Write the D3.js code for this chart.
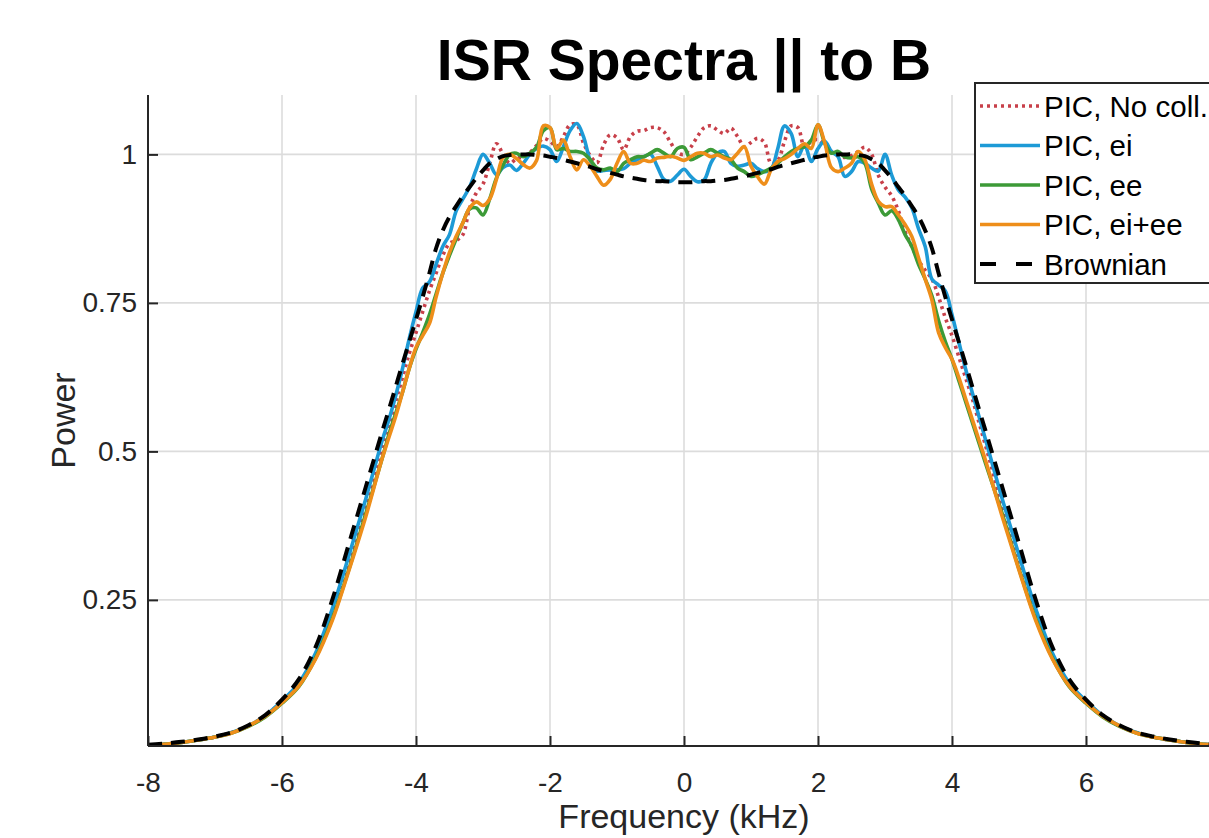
<!DOCTYPE html>
<html>
<head>
<meta charset="utf-8">
<script src="https://cdn.jsdelivr.net/npm/d3@7"></script>
<style>
  html, body { margin: 0; padding: 0; background: #ffffff; overflow: hidden; }
  svg { display: block; font-family: "Liberation Sans", Arial, Helvetica, sans-serif; }
</style>
</head>
<body>
<svg id="chart" width="1209" height="838"></svg>
<script>
// ---------------- data ----------------
const freq = [-8,-7.75,-7.5,-7.25,-7,-6.75,-6.5,-6.25,-6,-5.75,-5.5,-5.25,-5,-4.75,
  -4.5,-4.4,-4.3,-4.2,-4.1,-4,-3.9,-3.8,-3.7,-3.6,-3.5,-3.4,-3.3,-3.2,-3.1,-3,
  -2.9,-2.8,-2.7,-2.6,-2.5,-2.4,-2.3,-2.2,-2.1,-2,-1.9,-1.8,-1.7,-1.6,-1.5,-1.4,
  -1.3,-1.2,-1.1,-1,-0.9,-0.8,-0.7,-0.6,-0.5,-0.4,-0.3,-0.2,-0.1,0,
  0.1,0.2,0.3,0.4,0.5,0.6,0.7,0.8,0.9,1,1.1,1.2,1.3,1.4,1.5,1.6,1.7,1.8,1.9,2,
  2.1,2.2,2.3,2.4,2.5,2.6,2.7,2.8,2.9,3,3.1,3.2,3.3,3.4,3.5,3.6,3.7,3.8,3.9,4,
  4.1,4.2,4.3,4.4,4.5,
  4.75,5,5.25,5.5,5.75,6,6.25,6.5,6.75,7,7.25,7.5,7.75,8];

const picNoColl = [.005,.007,.010,.014,.019,.027,.038,.055,.079,.108,.158,.23,.318,.41,
  .51,.545,.585,.625,.665,.70,.735,.77,.80,.83,.85,.855,.865,.91,.935,.95,
  .985,1.018,1.0,.985,.993,.996,1.003,1.015,1.027,1.022,1.013,1.03,1.05,1.05,1.019,.998,
  .986,1.016,1.033,1.028,1.008,1.03,1.039,1.04,1.045,1.045,1.038,1.02,1.003,1.0,
  1.012,1.03,1.045,1.048,1.041,1.035,1.044,1.03,1.013,1.02,1.027,1.02,.985,.99,1.022,1.048,1.045,1.012,1.022,1.025,
  1.015,1.005,.998,.995,.998,1.005,1.012,1.0,.965,.945,.93,.905,.87,.845,.822,.805,.79,.76,.725,.695,
  .66,.625,.59,.55,.51,
  .41,.318,.23,.158,.108,.079,.055,.038,.027,.019,.014,.010,.007,.005];

const picEi = [.005,.007,.010,.014,.019,.027,.038,.055,.08,.11,.16,.235,.325,.42,
  .52,.555,.595,.64,.69,.735,.775,.785,.815,.845,.865,.905,.925,.945,.975,1.0,
  .985,.966,.978,.982,.973,.985,1.0,1.01,1.014,1.008,.988,1.013,1.04,1.052,1.03,.99,
  .972,.973,.974,.974,.976,.985,.991,.996,1.0,.98,.958,.955,.965,.975,
  .963,.954,.957,.985,1.002,1.005,.985,.98,.982,.985,.976,.971,.975,1.01,1.048,1.035,.996,1.016,.988,1.01,
  1.022,1.005,.996,.963,.971,.988,.985,.977,.972,1.0,.965,.94,.928,.91,.875,.845,.79,.78,.77,.73,
  .685,.64,.60,.56,.52,
  .42,.325,.235,.16,.11,.08,.055,.038,.027,.019,.014,.010,.007,.005];

const picEe = [.005,.007,.010,.014,.019,.026,.037,.053,.076,.104,.152,.218,.302,.395,
  .49,.53,.565,.60,.64,.672,.70,.73,.765,.80,.83,.858,.885,.908,.91,.898,
  .925,.96,.982,1.0,1.002,.996,1.002,1.012,1.04,1.045,1.008,1.01,1.005,1.005,1.002,.991,
  .977,.974,.977,.971,.985,.991,.996,.996,1.002,1.008,1.002,.996,1.01,1.012,
  .991,.996,1.002,1.008,1.002,.996,.991,.977,.971,.963,.966,.971,.977,.985,.996,1.005,1.01,1.013,1.024,1.05,
  1.019,1.002,1.005,.996,.994,.996,.985,.942,.918,.898,.905,.89,.865,.845,.815,.79,.762,.72,.685,.655,
  .62,.585,.55,.515,.48,
  .395,.302,.218,.152,.104,.076,.053,.037,.026,.019,.014,.010,.007,.005];

const picEiEe = [.005,.007,.010,.014,.019,.026,.038,.054,.077,.105,.15,.215,.30,.39,
  .49,.525,.56,.60,.64,.675,.695,.715,.76,.80,.835,.862,.885,.91,.92,.914,
  .925,.958,.995,1.0,.993,.983,.977,.99,1.048,1.045,1.01,1.024,.996,.974,.991,.98,
  .963,.948,.958,.985,1.005,.985,.985,.99,.988,.994,.995,.997,.994,.99,
  .996,1.002,1.002,.996,.999,.994,.991,1.002,1.013,.98,.962,.95,.974,.988,.993,1.0,1.01,1.018,1.01,1.05,
  1.02,.978,.971,.977,.985,1.005,.991,.95,.921,.912,.912,.898,.882,.862,.826,.79,.755,.70,.675,.655,
  .625,.59,.555,.52,.485,
  .39,.30,.215,.15,.105,.077,.054,.038,.026,.019,.014,.010,.007,.005];

const brownian = [.006,.008,.011,.015,.02,.027,.039,.056,.082,.116,.17,.25,.345,.44,
  .535,.572,.61,.648,.685,.722,.76,.80,.842,.872,.895,.913,.93,.945,.96,.973,
  .985,.992,.997,.999,1.0,1.0,1.0,.999,.998,.996,.994,.991,.988,.985,.982,.979,
  .975,.972,.969,.966,.963,.961,.959,.957,.956,.955,.955,.954,.953,.953,
  .953,.954,.955,.955,.956,.957,.959,.961,.963,.966,.969,.972,.975,.979,.982,.985,.988,.991,.994,.996,
  .998,.999,1.0,1.0,1.0,.999,.997,.992,.985,.973,.96,.945,.93,.913,.895,.872,.842,.80,.76,.722,
  .685,.648,.61,.572,.535,
  .44,.345,.25,.17,.116,.082,.056,.039,.027,.02,.015,.011,.008,.006];

const seriesNames = ["PIC, No coll.", "PIC, ei", "PIC, ee", "PIC, ei+ee", "Brownian"];
const xTicks = [-8,-6,-4,-2,0,2,4,6,8];
const xTickLabels = ["-8","-6","-4","-2","0","2","4","6","8"];
const yTicks = [0.25,0.5,0.75,1];
const yTickLabels = ["0.25","0.5","0.75","1"];
const titleText = "ISR Spectra || to B";
const xLabel = "Frequency (kHz)";
const yLabel = "Power";

// ---------------- layout / style ----------------
const svg = d3.select("#chart");
const pL = 148, pR = 1220, pT = 95, pB = 746;
const x = d3.scaleLinear().domain([-8, 8]).range([pL, pR]);
const y = d3.scaleLinear().domain([0.004, 1.1]).range([pB, pT]);

const styles = [
  {color: "#c8404a", width: 3.6, dash: "3,4", cap: "butt"},
  {color: "#1d9ad6", width: 3.6, dash: null, cap: "round"},
  {color: "#3c9a37", width: 3.6, dash: null, cap: "round"},
  {color: "#ee8e1a", width: 3.6, dash: null, cap: "round"},
  {color: "#000000", width: 4, dash: "14,9", cap: "butt"}
];
const allSeries = [picNoColl, picEi, picEe, picEiEe, brownian];

// grid
const grid = svg.append("g");
grid.selectAll("line.vx").data(xTicks).join("line")
  .attr("x1", d => x(d)).attr("x2", d => x(d))
  .attr("y1", pT).attr("y2", pB)
  .attr("stroke", "#dcdcdc").attr("stroke-width", 1.6);
grid.selectAll("line.hy").data(yTicks).join("line")
  .attr("x1", pL).attr("x2", pR)
  .attr("y1", d => y(d)).attr("y2", d => y(d))
  .attr("stroke", "#dcdcdc").attr("stroke-width", 1.6);

// clip
svg.append("defs").append("clipPath").attr("id", "plotclip")
  .append("rect").attr("x", pL).attr("y", pT - 2).attr("width", pR - pL).attr("height", pB - pT + 2);

const lineGen = d3.line()
  .x((d, i) => x(freq[i]))
  .y(d => y(d))
  .curve(d3.curveCatmullRom.alpha(0.5));

const linesG = svg.append("g").attr("clip-path", "url(#plotclip)");
allSeries.forEach((s, k) => {
  const st = styles[k];
  linesG.append("path")
    .datum(s)
    .attr("d", lineGen)
    .attr("fill", "none")
    .attr("stroke", st.color)
    .attr("stroke-width", st.width)
    .attr("stroke-linejoin", "round")
    .attr("stroke-linecap", st.cap)
    .attr("stroke-dasharray", st.dash);
});

// axes
const tickFont = 28;
const xAxis = d3.axisBottom(x).tickValues(xTicks)
  .tickFormat((d, i) => xTickLabels[i])
  .tickSizeInner(-10).tickSizeOuter(0).tickPadding(26);
const gx = svg.append("g").attr("transform", `translate(0,${pB})`).call(xAxis);
const yAxis = d3.axisLeft(y).tickValues(yTicks)
  .tickFormat((d, i) => yTickLabels[i])
  .tickSizeInner(-10).tickSizeOuter(0).tickPadding(11);
const gy = svg.append("g").attr("transform", `translate(${pL},0)`).call(yAxis);

[gx, gy].forEach(g => {
  g.select(".domain").attr("stroke", "#262626").attr("stroke-width", 2);
  g.selectAll(".tick line").attr("stroke", "#262626").attr("stroke-width", 2);
  g.selectAll(".tick text").attr("fill", "#262626")
    .style("font-size", tickFont + "px")
    .style("font-family", "'Liberation Sans', Arial, sans-serif");
});
gy.select(".domain").attr("d", `M0,${pB}V${pT}`);
gx.select(".domain").attr("d", `M${pL},0H${pR}`);

// labels
svg.append("text")
  .attr("x", (pL + pR) / 2).attr("y", 828)
  .attr("text-anchor", "middle")
  .attr("fill", "#262626")
  .style("font-size", "34px")
  .text(xLabel);

svg.append("text")
  .attr("transform", `translate(75,${(pT + pB) / 2}) rotate(-90)`)
  .attr("text-anchor", "middle")
  .attr("fill", "#262626")
  .style("font-size", "34px")
  .text(yLabel);

svg.append("text")
  .attr("x", (pL + pR) / 2).attr("y", 80)
  .attr("text-anchor", "middle")
  .attr("fill", "#000000")
  .style("font-size", "57px")
  .style("font-weight", "bold")
  .text(titleText);

// legend
const lg = svg.append("g");
lg.append("rect")
  .attr("x", 975).attr("y", 83).attr("width", 260).attr("height", 200)
  .attr("fill", "#ffffff").attr("stroke", "#262626").attr("stroke-width", 2);
const rowY = d3.scaleLinear().domain([0, 4]).range([106, 264]);
seriesNames.forEach((name, k) => {
  const st = styles[k];
  const yy = rowY(k);
  lg.append("line")
    .attr("x1", 980).attr("x2", k === 4 ? 1032 : 1040)
    .attr("y1", yy).attr("y2", yy)
    .attr("stroke", st.color)
    .attr("stroke-width", st.width)
    .attr("stroke-dasharray", k === 4 ? "16,20" : st.dash);
  lg.append("text")
    .attr("x", 1044).attr("y", yy)
    .attr("dy", "0.36em")
    .attr("fill", "#000000")
    .style("font-size", "29.5px")
    .text(name);
});
</script>
</body>
</html>
